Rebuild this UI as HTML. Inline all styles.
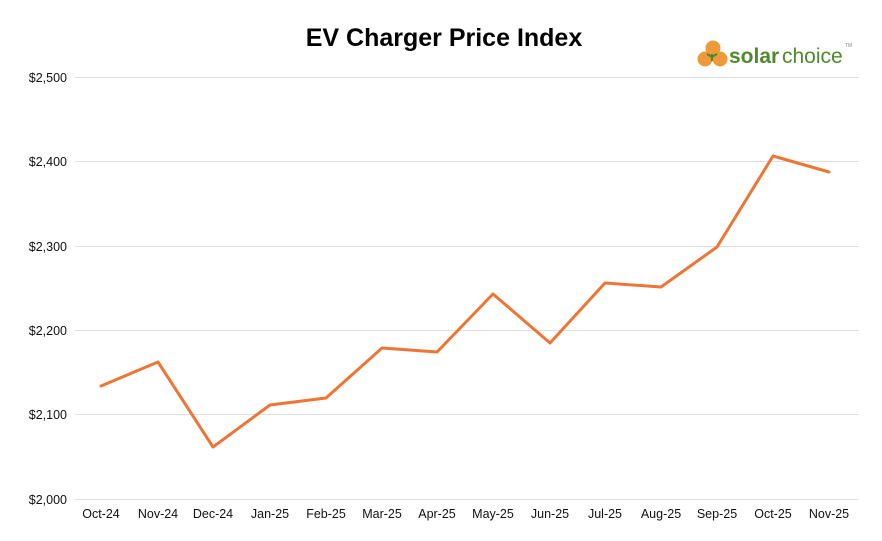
<!DOCTYPE html>
<html><head><meta charset="utf-8"><style>
html,body{margin:0;padding:0;background:#fff;}
svg{display:block;font-family:"Liberation Sans",Arial,sans-serif;}
</style></head><body>
<svg width="882" height="541" viewBox="0 0 882 541">
<rect width="882" height="541" fill="#fff"/>
<text x="444" y="46" text-anchor="middle" font-size="25" font-weight="bold" fill="#000">EV Charger Price Index</text>
<g fill="#ef9a3a">
<circle cx="713" cy="48" r="7.5"/><circle cx="705" cy="59" r="7.5"/><circle cx="720" cy="59" r="7.5"/>
</g>
<path d="M712 61 l0 -7 M712 57 l-5 -3 M712 57 l5 -3" stroke="#4a8a2a" stroke-width="2" fill="none"/>
<text x="729" y="63" font-size="21" font-weight="bold" fill="#4f8a2d">solar</text>
<text x="782" y="63" font-size="21" fill="#4f8a2d">choice</text>
<text x="845" y="47" font-size="5" fill="#888">TM</text>
<g stroke="#e0e0e0" stroke-width="1">
<line x1="75" x2="859" y1="77.5" y2="77.5"/>
<line x1="75" x2="859" y1="161.5" y2="161.5"/>
<line x1="75" x2="859" y1="246.5" y2="246.5"/>
<line x1="75" x2="859" y1="330.5" y2="330.5"/>
<line x1="75" x2="859" y1="414.5" y2="414.5"/>
<line x1="75" x2="859" y1="499.5" y2="499.5"/>
</g>
<g font-size="12.5" fill="#111" text-anchor="end">
<text x="67" y="82">$2,500</text><text x="67" y="166">$2,400</text><text x="67" y="251">$2,300</text>
<text x="67" y="335">$2,200</text><text x="67" y="419">$2,100</text><text x="67" y="504">$2,000</text>
</g>
<g font-size="12.5" fill="#111" text-anchor="middle">
<text x="101" y="518">Oct-24</text><text x="158" y="518">Nov-24</text><text x="213" y="518">Dec-24</text>
<text x="270" y="518">Jan-25</text><text x="326" y="518">Feb-25</text><text x="382" y="518">Mar-25</text>
<text x="437" y="518">Apr-25</text><text x="493" y="518">May-25</text><text x="550" y="518">Jun-25</text>
<text x="605" y="518">Jul-25</text><text x="661" y="518">Aug-25</text><text x="717" y="518">Sep-25</text>
<text x="773" y="518">Oct-25</text><text x="829" y="518">Nov-25</text>
</g>
<polyline fill="none" stroke="#ed7535" stroke-width="3" stroke-linejoin="round" stroke-linecap="round"
points="101,386 158,362 213,447 270,405 326,398 382,348 437,352 493,294 550,343 605,283 661,287 717,247 773,156 829,172"/>
</svg>
</body></html>
